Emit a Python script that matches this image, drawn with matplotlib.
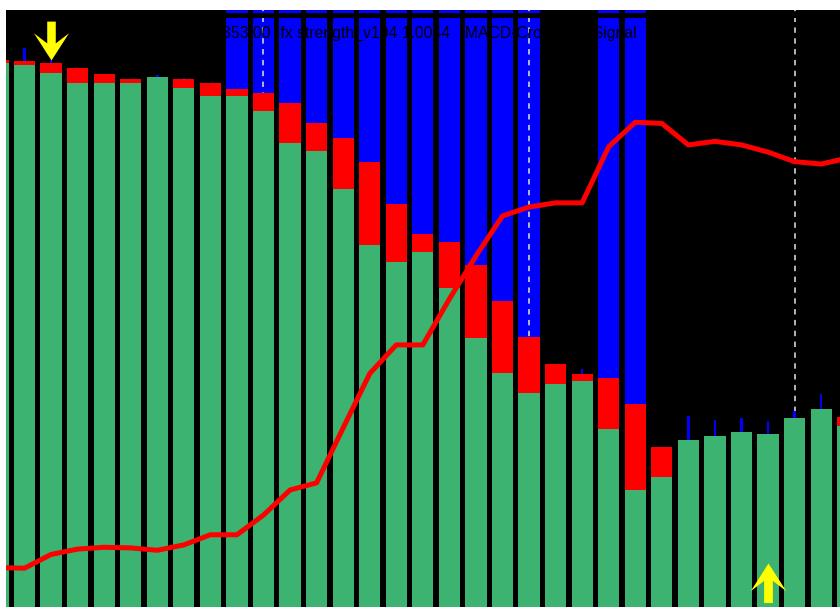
import numpy as np
import matplotlib
matplotlib.use("Agg")
import matplotlib.pyplot as plt
from matplotlib.path import Path

# ---------------- data ----------------
bar_index = list(range(33))
green_vals = [91.1, 90.8, 89.5, 87.8, 87.8, 87.8, 88.7, 87.0, 85.6, 85.6, 83.1,
              77.8, 76.4, 70.1, 60.6, 57.8, 59.5, 53.4, 45.1, 39.2, 35.9, 37.3,
              37.9, 29.8, 19.6, 21.7, 27.9, 28.7, 29.3, 29.0, 31.7, 33.1, 30.4]
red_vals = [0.5, 0.6, 1.7, 2.5, 1.4, 0.6, 0.0, 1.4, 2.2, 1.1, 3.0,
            6.7, 4.7, 8.5, 13.9, 9.7, 3.0, 7.7, 12.2, 12.0, 9.4, 3.4,
            1.1, 8.6, 14.4, 5.1, 0.0, 0.0, 0.0, 0.0, 0.0, 0.0, 1.4]
nan = float("nan")
blue_top = [nan] * 9 + [100.0] * 12 + [nan, nan, 100.0, 100.0] + [nan] * 8
thin_blue_top = [nan, 93.6, 91.7, nan, nan, nan, 89.1, 88.6, nan, nan, nan,
                 nan, nan, nan, nan, nan, nan, nan, nan, nan, nan, nan,
                 39.8, nan, nan, nan, 32.0, 31.4, 31.7, 31.2, 32.8, 35.6, nan]
line_vals = [6.6, 6.5, 8.8, 9.7, 10.0, 9.9, 9.5, 10.4, 12.1, 12.1, 15.4,
             19.6, 20.8, 30.0, 39.1, 43.9, 43.9, 51.6, 58.8, 65.5, 67.0, 67.7,
             67.7, 77.1, 81.2, 81.0, 77.4, 78.0, 77.4, 76.2, 74.6, 74.2, 75.2]
separators = [10, 20, 30]
down_arrow_idx = [2]
down_arrow_val = [91.6]
up_arrow_idx = [29]
up_arrow_val = [7.4]
label_texts = ["353 00 -fx strength_v104 1.0044", "MACD-Crossover Signal"]

# ---------------- figure ----------------
fig = plt.figure(figsize=(8.4, 6.07), dpi=100, facecolor="white")
ax = fig.add_axes([6 / 840, 0, 834 / 840, 597 / 607])
ax.set_facecolor("black")
for s in ax.spines.values():
    s.set_visible(False)
ax.set_xticks([])
ax.set_yticks([])

x = np.array(bar_index, dtype=float)
g = np.array(green_vals)
r = np.array(red_vals)
stack = g + r
bt = np.array(blue_top)
tb = np.array(thin_blue_top)

W = 0.80
# tall blue bars
ax.bar(x, bt - stack, bottom=stack, width=W, color="#0000ff", zorder=1, linewidth=0)
# period separators
for s in separators:
    ax.axvline(s, color="#c4c4c4", lw=1.3, ls=(0, (3, 3)), zorder=2)
# thin blue lines
ax.bar(x, tb - stack, bottom=stack, width=0.1, color="#0000ff", zorder=2.5, linewidth=0)
# green and red stacked bars
ax.bar(x, g, width=W, color="#3cb371", zorder=3, linewidth=0)
ax.bar(x, r, bottom=g, width=W, color="#ff0000", zorder=3, linewidth=0)
# black band across top
ax.axhspan(98.6, 99.45, color="black", zorder=3.5, linewidth=0)

# label text (black)
tx = [(222 + 2.05) / 26.55, (465 + 2.05) / 26.55]
for t, xx in zip(label_texts, tx):
    ax.text(xx, 95.3, t, color="black", fontsize=11.3, va="baseline", ha="left",
            family="Liberation Sans", zorder=4)

# red line
ax.plot(x, line_vals, color="#ff0000", lw=3.6, zorder=5,
        solid_joinstyle="round", solid_capstyle="round")

# arrows
hw, sw, jy, cy = 0.45, 0.11, 0.44, 0.70
down_verts = [(0, 0), (hw, cy), (sw, jy), (sw, 1), (-sw, 1), (-sw, jy), (-hw, cy), (0, 0)]
down_path = Path(down_verts, [Path.MOVETO] + [Path.LINETO] * 6 + [Path.CLOSEPOLY])
up_verts = [(vx, -vy) for vx, vy in down_verts]
up_path = Path(up_verts, [Path.MOVETO] + [Path.LINETO] * 6 + [Path.CLOSEPOLY])
ax.plot(down_arrow_idx, down_arrow_val, ls="none", marker=down_path, ms=56,
        color="#ffff00", mec="#ffff00", mew=0, zorder=6)
ax.plot(up_arrow_idx, up_arrow_val, ls="none", marker=up_path, ms=57,
        color="#ffff00", mec="#ffff00", mew=0, zorder=6)

ax.set_xlim(0.303, 31.71)
ax.set_ylim(0, 100)

fig.savefig("out.png", dpi=100, facecolor="white")
